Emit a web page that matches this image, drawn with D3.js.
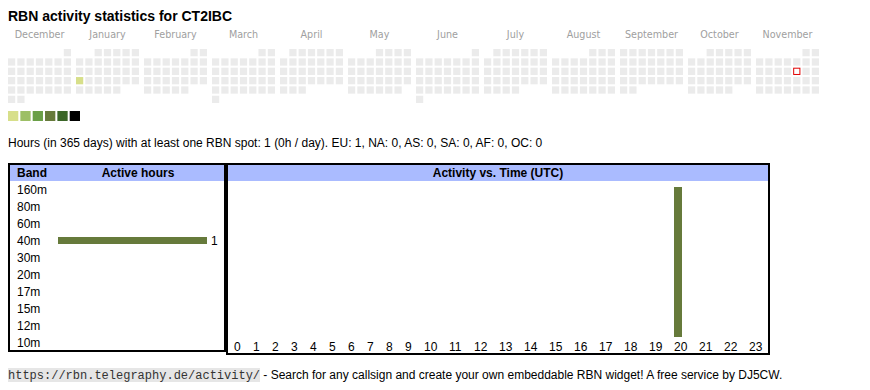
<!DOCTYPE html>
<html><head><meta charset="utf-8">
<script src="https://cdn.jsdelivr.net/npm/d3@7"></script>
<style>
html,body{margin:0;padding:0;background:#fff;}
svg{display:block;}
</style>
</head><body>
<svg id="c" width="870" height="390"></svg>
<script>
// ---------- DATA ----------
const callsign = "CT2IBC";
const monthNames = ["December","January","February","March","April","May","June","July","August","September","October","November"];
const monthStarts = ["2024-12-01","2025-01-01","2025-02-01","2025-03-01","2025-04-01","2025-05-01","2025-06-01","2025-07-01","2025-08-01","2025-09-01","2025-10-01","2025-11-01"];
const activeDays = ["2025-01-20"];
const activeLevels = [1];
const today = "2025-11-14";
const levelColors = ["#d7df8a","#9dbf66","#6a9f47","#667a3b","#3b6628","#000000"];
const bands = ["160m","80m","60m","40m","30m","20m","17m","15m","12m","10m"];
const bandHours = [0,0,0,1,0,0,0,0,0,0];
const hours = d3.range(0,24);
const hourActivity = [0,0,0,0,0,0,0,0,0,0,0,0,0,0,0,0,0,0,0,0,1,0,0,0];
const summary = "Hours (in 365 days) with at least one RBN spot: 1 (0h / day). EU: 1, NA: 0, AS: 0, SA: 0, AF: 0, OC: 0";
const footerUrl = "https://rbn.telegraphy.de/activity/";
const footerText = " - Search for any callsign and create your own embeddable RBN widget! A free service by DJ5CW.";

// ---------- DRAW ----------
const svg = d3.select("#c");
const SANS = "'Liberation Sans', Arial, sans-serif";
const FS = 12;
const parse = d3.timeParse("%Y-%m-%d");
const fmt = d3.timeFormat("%Y-%m-%d");
const barColor = "#667a3b";
const headBg = "#aabbff";

// Title
svg.append("text").attr("x",8).attr("y",21)
  .attr("font-family",SANS).attr("font-size",14).attr("font-weight","bold").attr("fill","#000")
  .text("RBN activity statistics for " + callsign);

// Calendar
const monthX = d3.scaleBand().domain(d3.range(12)).range([8, 819]).paddingInner(5/68).paddingOuter(0);
const colX = d3.scaleBand().domain(d3.range(7)).range([0, 63]).paddingInner(2/9).paddingOuter(0);
const rowY = d3.scaleBand().domain(d3.range(6)).range([49, 49+54]).paddingInner(2/9).paddingOuter(0);
const levelColor = d3.scaleOrdinal().domain(d3.range(1,7)).range(levelColors);
const activityMap = new Map(activeDays.map((d,i)=>[d, activeLevels[i]]));

monthStarts.forEach((ms, mi) => {
  const start = parse(ms);
  const end = d3.timeMonth.offset(start, 1);
  const offset = (start.getDay()+6)%7;
  const g = svg.append("g");
  g.append("text").attr("x", monthX(mi) + monthX.bandwidth()/2).attr("y", 38)
    .attr("text-anchor","middle").attr("font-family","'DejaVu Sans', Verdana, sans-serif")
    .attr("font-size",9.6).attr("fill","#a0a0a0").text(monthNames[mi]);
  const days = d3.timeDay.range(start, end);
  g.selectAll("rect").data(days).join("rect")
    .attr("x", d => monthX(mi) + colX((d.getDay()+6)%7) + (fmt(d)===today?0.5:0))
    .attr("y", d => rowY(Math.floor((d.getDate()-1+offset)/7)) + (fmt(d)===today?0.5:0))
    .attr("width", d => fmt(d)===today ? colX.bandwidth()-1 : colX.bandwidth())
    .attr("height", d => fmt(d)===today ? rowY.bandwidth()-1 : rowY.bandwidth())
    .attr("fill", d => activityMap.has(fmt(d)) ? levelColor(activityMap.get(fmt(d))) : (fmt(d)===today ? "#fff" : "#ebebeb"))
    .attr("stroke", d => fmt(d)===today ? "#e00000" : "none")
    .attr("stroke-width", 1);
});

// Legend
const legX = d3.scaleBand().domain(d3.range(levelColors.length)).range([8, 8+72]).paddingInner(2/12).paddingOuter(0);
svg.append("g").selectAll("rect").data(levelColors).join("rect")
  .attr("x",(d,i)=>legX(i)).attr("y",111).attr("width",legX.bandwidth()).attr("height",10)
  .attr("fill",d=>d);

// Summary
svg.append("text").attr("x",8).attr("y",147).attr("font-family",SANS).attr("font-size",FS)
  .attr("fill","#000").text(summary);

// Left table
const L = {x0:8, x1:226, y0:163, y1:352};
svg.append("rect").attr("x",L.x0+1).attr("y",L.y0+2).attr("width",L.x1-L.x0-2).attr("height",16).attr("fill",headBg);
svg.append("rect").attr("x",L.x0+1).attr("y",L.y0+1).attr("width",L.x1-L.x0-2).attr("height",L.y1-L.y0-2)
  .attr("fill","none").attr("stroke","#000").attr("stroke-width",2);
svg.append("text").attr("x",17).attr("y",177).attr("font-family",SANS).attr("font-size",FS).attr("font-weight","bold").text("Band");
svg.append("text").attr("x",138).attr("y",177).attr("text-anchor","middle").attr("font-family",SANS).attr("font-size",FS).attr("font-weight","bold").text("Active hours");

const bandY = d3.scaleBand().domain(bands).range([181, 181+17*bands.length]);
const hx = d3.scaleLinear().domain([0, d3.max(bandHours)]).range([0, 149]);
const rows = svg.append("g").selectAll("g").data(bands).join("g");
rows.append("text").attr("x",17).attr("y",d=>bandY(d)+12.5).attr("font-family",SANS).attr("font-size",FS).attr("fill","#000").text(d=>d);
rows.filter((d,i)=>bandHours[i]>0).each(function(d){
  const i = bands.indexOf(d);
  const sel = d3.select(this);
  sel.append("rect").attr("x",58).attr("y",bandY(d)+5).attr("width",hx(bandHours[i])).attr("height",7).attr("fill",barColor);
  sel.append("text").attr("x",58+hx(bandHours[i])+4).attr("y",bandY(d)+12.5).attr("font-family",SANS).attr("font-size",FS).text(bandHours[i]);
});

// Right table
const R = {x0:226, x1:770, y0:163, y1:355};
svg.append("rect").attr("x",R.x0+1).attr("y",R.y0+2).attr("width",R.x1-R.x0-2).attr("height",16).attr("fill",headBg);
svg.append("rect").attr("x",R.x0+1).attr("y",R.y0+1).attr("width",R.x1-R.x0-2).attr("height",R.y1-R.y0-2)
  .attr("fill","none").attr("stroke","#000").attr("stroke-width",2);
svg.append("text").attr("x",(R.x0+R.x1)/2).attr("y",177).attr("text-anchor","middle").attr("font-family",SANS).attr("font-size",FS).attr("font-weight","bold").text("Activity vs. Time (UTC)");

// hour columns: auto table widths (padding + digit widths)
const colW = hours.map(h => 13 + 6*String(h).length);
const colStart = [];
hours.reduce((acc, h, i) => { colStart.push(acc); return acc + colW[i]; }, 228);
const hourX = d3.scaleOrdinal().domain(hours).range(colStart);
const ay = d3.scaleLinear().domain([0, d3.max(hourActivity)]).range([337, 187]);
const hg = svg.append("g");
hg.selectAll("rect").data(hours.filter(h=>hourActivity[h]>0)).join("rect")
  .attr("x",h=>hourX(h)+6).attr("y",h=>ay(hourActivity[h])).attr("width",8)
  .attr("height",h=>ay(0)-ay(hourActivity[h])).attr("fill",barColor);
hg.selectAll("text").data(hours).join("text")
  .attr("x",h=>hourX(h)+6).attr("y",350.5).attr("font-family",SANS).attr("font-size",FS).attr("fill","#000").text(h=>h);

// Footer
const urlW = footerUrl.length*7.2;
svg.append("rect").attr("x",8).attr("y",368).attr("width",urlW).attr("height",14).attr("fill","#e6e6e6");
svg.append("text").attr("x",8).attr("y",379).attr("font-family","'Liberation Mono', 'Courier New', monospace").attr("font-size",12).attr("fill","#333").text(footerUrl);
svg.append("text").attr("x",8+urlW).attr("y",379).attr("font-family",SANS).attr("font-size",FS).attr("fill","#000").attr("xml:space","preserve").style("white-space","pre").text(footerText);
</script>
</body></html>
